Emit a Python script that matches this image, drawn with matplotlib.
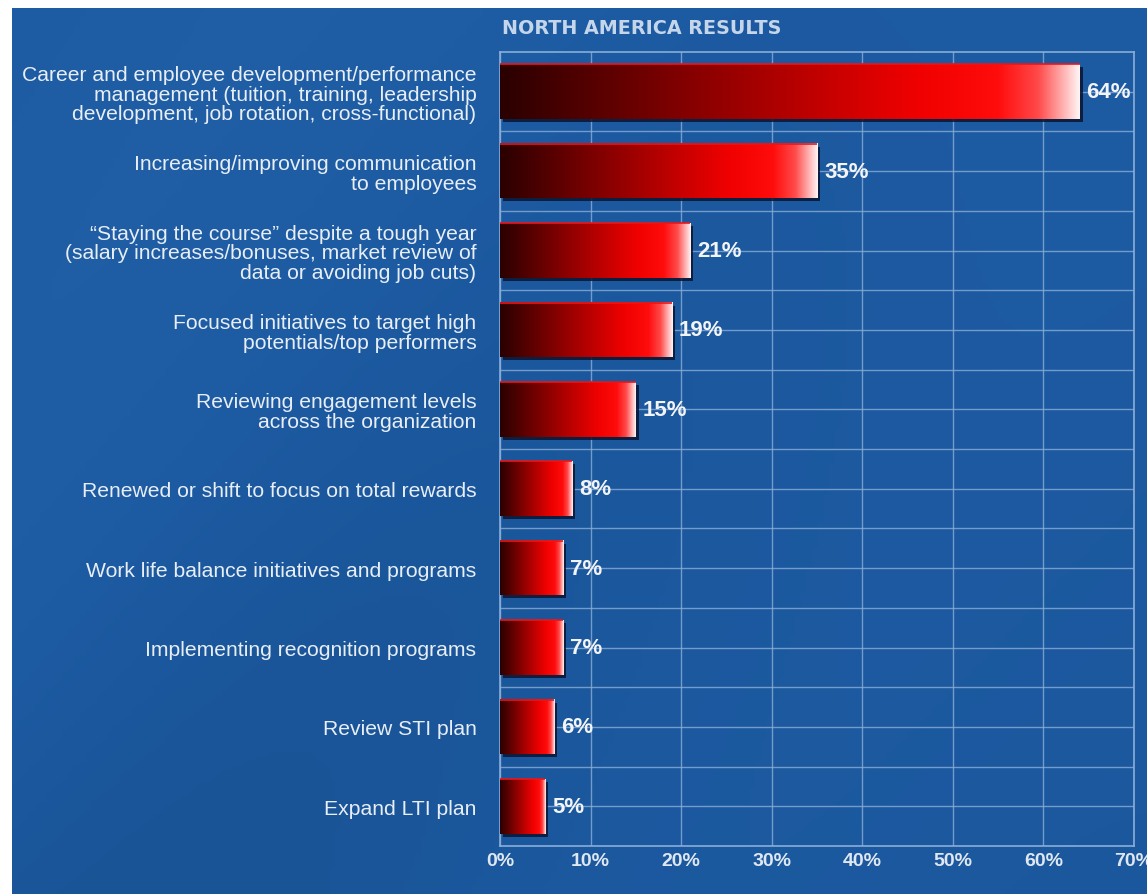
import numpy as np
import matplotlib.pyplot as plt
import matplotlib.transforms as mtransforms
from matplotlib.colors import LinearSegmentedColormap
from matplotlib.patches import Rectangle

plt.rcParams['font.family'] = ['Liberation Sans', 'DejaVu Sans']

# survey answers, top to bottom
categories = [
    "Career and employee development/performance\nmanagement (tuition, training, leadership\ndevelopment, job rotation, cross-functional)",
    "Increasing/improving communication\nto employees",
    "\u201cStaying the course\u201d despite a tough year\n(salary increases/bonuses, market review of\ndata or avoiding job cuts)",
    "Focused initiatives to target high\npotentials/top performers",
    "Reviewing engagement levels\nacross the organization",
    "Renewed or shift to focus on total rewards",
    "Work life balance initiatives and programs",
    "Implementing recognition programs",
    "Review STI plan",
    "Expand LTI plan",
]
values = [64, 35, 21, 19, 15, 8, 7, 7, 6, 5]
x_ticks = [0, 10, 20, 30, 40, 50, 60, 70]
title = "NORTH AMERICA RESULTS"

W, H = 1147, 895
BLUE = "#1d5ba3"
GRID = "#8aaed8"
TEXT = "#e8eef6"

fig = plt.figure(figsize=(W / 100, H / 100), dpi=100)
fig.patch.set_facecolor("white")

# blue backdrop with a faint diagonal shading
bg = fig.add_axes([12 / W, 0, 1 - 12 / W, 1 - 9 / H])
yy, xx = np.mgrid[0:1:200j, 0:1:200j]
shade = 0.5 + 0.2 * np.sin(6 * (xx + 0.6 * yy)) * (1 - xx) - 0.15 * yy
bg_cmap = LinearSegmentedColormap.from_list("bg", ["#17508f", "#1d5ba3", "#2463a9"])
bg.imshow(shade, cmap=bg_cmap, aspect="auto", extent=(0, 1, 0, 1), vmin=0, vmax=1)
bg.set_axis_off()

ax = fig.add_axes([500 / W, 1 - 847 / H, (1134 - 500) / W, (847 - 53) / H])
ax.patch.set_alpha(0)

bar_cmap = LinearSegmentedColormap.from_list(
    "bar",
    [(0.0, "#2a0000"), (0.35, "#8c0000"), (0.72, "#f00000"), (0.86, "#ff0c0c"),
     (0.93, "#ff4a4a"), (1.0, "#fff2f2")],
)
grad = np.linspace(0, 1, 256).reshape(1, -1)
h = 0.69
shadow_tr = ax.transData + mtransforms.ScaledTranslation(3 / 100, -3 / 100, fig.dpi_scale_trans)

for i, v in enumerate(values):
    top, bot = i - h / 2, i + h / 2
    ax.add_patch(Rectangle((0, top), v, h, facecolor="#0b1530", alpha=0.85,
                           edgecolor="none", transform=shadow_tr, zorder=3))
    ax.imshow(grad, cmap=bar_cmap, aspect="auto", extent=(0, v, bot, top),
              interpolation="bilinear", zorder=4)
    ax.hlines(top, 0, v, color="#e8161a", lw=1.2, zorder=5)
    ax.annotate(f"{v}%", (v, i), xytext=(5, 0), textcoords="offset points",
                ha="left", va="center", fontsize=16, fontweight="bold",
                color="#f2f4f7", zorder=6)

ax.set_xlim(0, 70)
ax.set_ylim(len(values) - 0.5, -0.5)
ax.set_xticks(x_ticks)
ax.set_xticklabels([f"{t}%" for t in x_ticks], fontsize=14, fontweight="bold", color="#dfe7f1")
ax.set_yticks(range(len(values)))
ax.set_yticks(np.arange(0.5, len(values) - 0.5, 1), minor=True)
ax.set_yticklabels(categories, fontsize=15.2, color=TEXT, linespacing=1.05,
                   multialignment="right")
ax.tick_params(axis="y", which="both", length=0, pad=17)
ax.tick_params(axis="x", length=0, pad=4)
ax.grid(True, which="both", color=GRID, lw=1, alpha=0.8, zorder=1)
ax.set_axisbelow(True)
for s in ax.spines.values():
    s.set_color(GRID)
    s.set_linewidth(1.2)

fig.text(502 / W, 1 - 29 / H, title, ha="left", va="center", fontsize=13.8,
         fontweight="bold", color="#c6d6ea", family="DejaVu Sans")

fig.savefig("out.png", dpi=100, facecolor=fig.get_facecolor())
